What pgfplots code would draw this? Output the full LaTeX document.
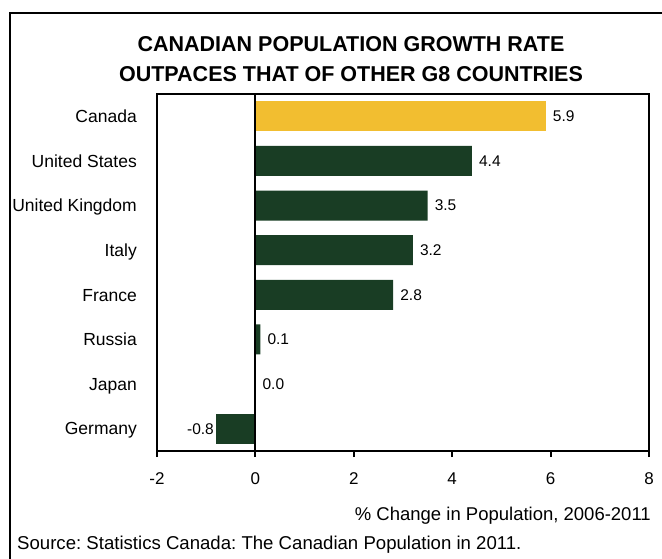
\documentclass[border=0pt]{standalone}
\usepackage{fontspec}
\setmainfont{Liberation Sans}
\usepackage{pgfplots}
\pgfplotsset{compat=1.18}
\definecolor{cyel}{RGB}{242,190,48}
\definecolor{cgrn}{RGB}{25,61,36}
\frenchspacing
\begin{document}
\frenchspacing
\begin{tikzpicture}[x=1pt,y=1pt]
\useasboundingbox (0,0) rectangle (662,-559);
\draw[line width=2pt] (10,-600) -- (10,-13) -- (700,-13);
\node[font=\fontsize{21.5}{29.5}\selectfont\bfseries, align=center] at (351,-59) {CANADIAN POPULATION GROWTH RATE\\OUTPACES THAT OF OTHER G8 COUNTRIES};
\begin{axis}[
  at={(157pt,-451pt)}, anchor=south west,
  scale only axis, width=492pt, height=357pt,
  xmin=-2, xmax=8, ymin=-0.5, ymax=7.5,
  xtick={-2,0,...,8},
  ytick={0,...,7},
  yticklabels={Germany,Japan,Russia,France,Italy,United Kingdom,United States,Canada},
  axis line style={line width=2pt},
  /pgf/number format/assume math mode=true,
  xtick align=outside, xtick pos=bottom,
  major tick length=6pt,
  x tick style={line width=2pt, black},
  y tick style={draw=none},
  ytick pos=left,
  yticklabel style={font=\fontsize{17.5}{20}\selectfont, inner sep=0pt, text height=12.6pt, text depth=0pt, xshift=-14pt},
  xticklabel style={font=\fontsize{17}{20}\selectfont, inner sep=0pt, yshift=-15.7pt},
  xbar, bar width=0.67, bar shift=0pt,
  point meta=x,
  nodes near coords={\pgfmathprintnumber[fixed,zerofill,precision=1]{\pgfplotspointmeta}},
  nodes near coords style={font=\fontsize{15.5}{18}\selectfont, inner sep=0pt, anchor=west, xshift=7pt, black},
  clip=false,
]
\addplot[fill=cyel, draw=none] coordinates {(5.9,7)};
\addplot[fill=cgrn, draw=none] coordinates {(4.4,6) (3.5,5) (3.2,4) (2.8,3) (0.1,2) (0.0,1)};
\addplot[fill=cgrn, draw=none, nodes near coords style={anchor=east, xshift=-9pt}] coordinates {(-0.8,0)};
\addplot[xbar=false, sharp plot, black, line width=2pt, nodes near coords={}] coordinates {(0,-0.5) (0,7.5)};
\end{axis}
\node[font=\fontsize{18.5}{21}\selectfont, anchor=base east, inner sep=0pt] at (651,-520.6) {\% Change in Population, 2006-2011};
\node[font=\fontsize{18.6}{21}\selectfont, anchor=base west, inner sep=0pt] at (17,-549.7) {Source: Statistics Canada: The Canadian Population in 2011.};
\end{tikzpicture}
\end{document}
